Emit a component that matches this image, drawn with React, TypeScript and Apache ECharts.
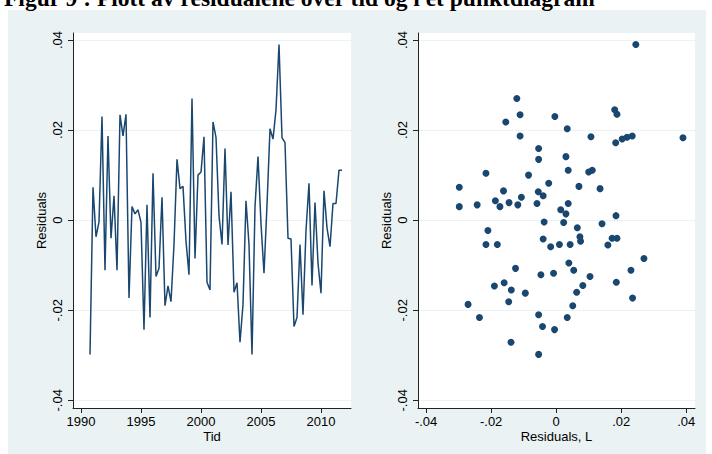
import React, { useEffect, useRef } from "react";
import * as echarts from "echarts";

// ---- Data ----
const quarters: string[] = [
  "1990q4",
  "1991q1", "1991q2", "1991q3", "1991q4",
  "1992q1", "1992q2", "1992q3", "1992q4",
  "1993q1", "1993q2", "1993q3", "1993q4",
  "1994q1", "1994q2", "1994q3", "1994q4",
  "1995q1", "1995q2", "1995q3", "1995q4",
  "1996q1", "1996q2", "1996q3", "1996q4",
  "1997q1", "1997q2", "1997q3", "1997q4",
  "1998q1", "1998q2", "1998q3", "1998q4",
  "1999q1", "1999q2", "1999q3", "1999q4",
  "2000q1", "2000q2", "2000q3", "2000q4",
  "2001q1", "2001q2", "2001q3", "2001q4",
  "2002q1", "2002q2", "2002q3", "2002q4",
  "2003q1", "2003q2", "2003q3", "2003q4",
  "2004q1", "2004q2", "2004q3", "2004q4",
  "2005q1", "2005q2", "2005q3", "2005q4",
  "2006q1", "2006q2", "2006q3", "2006q4",
  "2007q1", "2007q2", "2007q3", "2007q4",
  "2008q1", "2008q2", "2008q3", "2008q4",
  "2009q1", "2009q2", "2009q3", "2009q4",
  "2010q1", "2010q2", "2010q3", "2010q4",
  "2011q1", "2011q2", "2011q3", "2011q4",
];

const residuals: number[] = [
  -0.0298,
  0.0073, -0.0037, -0.0004, 0.023,
  -0.0111, 0.0187, -0.004, 0.0054,
  -0.0111, 0.0234, 0.0187, 0.0235,
  -0.0173, 0.003, 0.0014, 0.0023,
  -0.0005, -0.0243, 0.0034, -0.0216,
  0.0104, -0.0125, -0.0107, 0.0051,
  -0.019, -0.0146, -0.0181, -0.0054,
  0.0135, 0.007, 0.0075, -0.0047,
  -0.0121, 0.027, -0.0085, 0.01,
  0.0107, 0.0185, -0.0138, -0.0155,
  0.0218, 0.0184, 0.001, -0.0054,
  0.0159, -0.0055, 0.0063, -0.016,
  -0.0139, -0.0271, -0.0187, 0.0043,
  -0.0054, -0.0298, 0.003, 0.0141,
  -0.0008, -0.0118, 0.0034, 0.0203,
  0.018, 0.0245, 0.039, 0.0183,
  0.0172, -0.004, -0.0042, -0.0236,
  -0.0216, -0.0054, -0.021, -0.0023,
  0.0082, -0.0145, 0.0039, -0.0095,
  -0.0162, 0.0065, -0.0017, -0.0059,
  0.0037, 0.0037, 0.0111, 0.0111,
];

const yTicks: number[] = [-0.04, -0.02, 0, 0.02, 0.04];
const timeTicks: number[] = [1990, 1995, 2000, 2005, 2010];
const lagTicks: number[] = [-0.04, -0.02, 0, 0.02, 0.04];

const titleText = "Figur 9 : Plott av residualene over tid og i et punktdiagram";

const NAVY = "#1a476f";
const BG = "#eaf2f3";
const AXIS = "#222";

function quarterToYear(q: string): number {
  const [y, qq] = q.split("q");
  return Number(y) + (Number(qq) - 1) / 4;
}

function stataFmt(v: number): string {
  if (Math.abs(v) < 1e-9) return "0";
  const s = Math.abs(v).toFixed(2).replace(/^0/, "");
  return v < 0 ? "-" + s : s;
}

export default function App() {
  const ref = useRef<HTMLDivElement>(null);

  useEffect(() => {
    if (!ref.current) return;
    const chart = echarts.init(ref.current, undefined, { renderer: "svg" });

    const lineData = quarters.map((q, i) => [quarterToYear(q), residuals[i]]);
    const scatterData = residuals.slice(1).map((r, i) => [residuals[i], r]);

    const font = "'Liberation Sans', Arial, sans-serif";
    const lbl = { fontSize: 13, color: "#000", fontFamily: font };

    const yAxisCommon = (gridIndex: number) => ({
      type: "value" as const,
      gridIndex,
      min: -0.0417,
      max: 0.04155,
      axisLine: { show: true, onZero: false, lineStyle: { color: AXIS, width: 1 } },
      axisTick: { show: true, length: 5, customValues: yTicks, lineStyle: { color: AXIS, width: 1 } },
      axisLabel: { ...lbl, customValues: yTicks, rotate: 90, margin: 9, formatter: (v: number) => stataFmt(v) },
      splitLine: { show: true, customValues: yTicks, lineStyle: { color: BG, width: 1 } },
      name: "Residuals",
      nameLocation: "middle" as const,
      nameRotate: 90,
      nameGap: 25,
      nameTextStyle: { ...lbl },
    });

    const xName = (name: string) => ({
      name,
      nameLocation: "middle",
      nameGap: 21.5,
      nameMoveOverlap: false,
      nameTextStyle: { ...lbl, lineHeight: 13 },
    });

    const option: any = {
      animation: false,
      backgroundColor: "transparent",
      textStyle: { fontFamily: font },
      graphic: [
        {
          type: "text",
          x: 4,
          y: -14,
          style: {
            text: titleText,
            font: "bold 23.5px 'Liberation Serif', 'Times New Roman', serif",
            fill: "#000",
          },
        },
      ],
      grid: [
        { left: 73, top: 33, width: 278, height: 375, show: true, backgroundColor: "#fff", borderWidth: 0 },
        { left: 418, top: 33, width: 277, height: 375, show: true, backgroundColor: "#fff", borderWidth: 0 },
      ],
      xAxis: [
        {
          type: "value",
          gridIndex: 0,
          min: 1989.333,
          max: 2012.5,
          axisLine: { show: true, onZero: false, lineStyle: { color: AXIS, width: 1 } },
          axisTick: { show: true, length: 5, customValues: timeTicks, lineStyle: { color: AXIS, width: 1 } },
          axisLabel: { ...lbl, lineHeight: 13, customValues: timeTicks, margin: 7, formatter: (v: number) => String(v) },
          splitLine: { show: false },
          ...xName("Tid"),
        },
        {
          type: "value",
          gridIndex: 1,
          min: -0.0425,
          max: 0.0427,
          axisLine: { show: true, onZero: false, lineStyle: { color: AXIS, width: 1 } },
          axisTick: { show: true, length: 5, customValues: lagTicks, lineStyle: { color: AXIS, width: 1 } },
          axisLabel: { ...lbl, lineHeight: 13, customValues: lagTicks, margin: 7, formatter: (v: number) => stataFmt(v) },
          splitLine: { show: false },
          ...xName("Residuals, L"),
        },
      ],
      yAxis: [yAxisCommon(0), yAxisCommon(1)],
      series: [
        {
          type: "line",
          xAxisIndex: 0,
          yAxisIndex: 0,
          data: lineData,
          symbol: "none",
          showSymbol: false,
          lineStyle: { color: NAVY, width: 1.5 },
          z: 3,
        },
        {
          type: "scatter",
          xAxisIndex: 1,
          yAxisIndex: 1,
          data: scatterData,
          symbol: "circle",
          symbolSize: 7,
          itemStyle: { color: NAVY, opacity: 1 },
          z: 3,
        },
      ],
    };

    chart.setOption(option);
    return () => chart.dispose();
  }, []);

  return (
    <div style={{ position: "absolute", left: 0, top: 0, width: 712, height: 454, background: "#fff", overflow: "hidden" }}>
      <div style={{ position: "absolute", left: 8, top: 10, width: 698, height: 444, background: BG }} />
      <div ref={ref} style={{ position: "absolute", left: 0, top: 0, width: 712, height: 454 }} />
    </div>
  );
}
